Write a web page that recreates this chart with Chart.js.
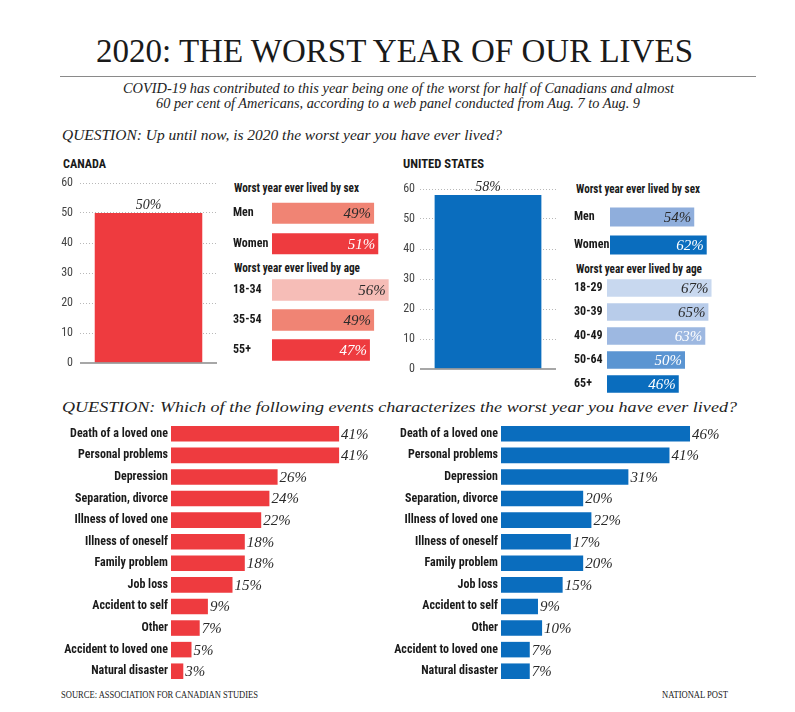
<!DOCTYPE html>
<html>
<head>
<meta charset="utf-8">
<script src="https://cdn.jsdelivr.net/npm/chart.js@4.4.1/dist/chart.umd.min.js"></script>
<style>
  body { margin: 0; background: #fff; }
  #page { position: relative; width: 795px; height: 712px; overflow: hidden; background: #fff; }
  canvas { position: absolute; }
  .t { position: absolute; white-space: nowrap; transform-origin: left top; color: #1a1a1a; }
  .serif { font-family: 'Liberation Serif', 'DejaVu Serif', serif; }
  .it { font-style: italic; }
  .sans { font-family: 'Liberation Sans Narrow', 'Roboto Condensed', Roboto, sans-serif; font-weight: bold; }
  #rule { position: absolute; left: 60px; top: 76px; width: 696px; height: 1px; background: #8a8a8a; }
</style>
</head>
<body>
<div id="page">
  <div class="t serif" data-w="597" style="left:96px;top:34px;font-size:34px;line-height:34px;">2020: THE WORST YEAR OF OUR LIVES</div>
  <div id="rule"></div>
  <div class="t serif it" data-w="551" style="left:123px;top:81px;font-size:15px;line-height:15px;color:#222;">COVID-19 has contributed to this year being one of the worst for half of Canadians and almost</div>
  <div class="t serif it" data-w="484" style="left:156px;top:96px;font-size:15px;line-height:15px;color:#222;">60 per cent of Americans, according to a web panel conducted from Aug. 7 to Aug. 9</div>
  <div class="t serif it" data-w="440" style="left:62px;top:128px;font-size:14.5px;line-height:14.5px;color:#222;">QUESTION: Up until now, is 2020 the worst year you have ever lived?</div>

  <div class="t sans" data-w="43" style="left:63px;top:157px;font-size:13px;line-height:13px;">CANADA</div>
  <div class="t sans" data-w="81" style="left:403px;top:157px;font-size:13px;line-height:13px;">UNITED STATES</div>

  <div class="t sans" data-w="125" style="left:234px;top:182px;font-size:12px;line-height:12px;">Worst year ever lived by sex</div>
  <div class="t sans" data-w="126" style="left:234px;top:262px;font-size:12px;line-height:12px;">Worst year ever lived by age</div>
  <div class="t sans" data-w="124" style="left:576px;top:183px;font-size:12px;line-height:12px;">Worst year ever lived by sex</div>
  <div class="t sans" data-w="126" style="left:576px;top:263px;font-size:12px;line-height:12px;">Worst year ever lived by age</div>

  <div class="t serif it" data-w="675" style="left:62px;top:400px;font-size:14.5px;line-height:14.5px;color:#222;">QUESTION: Which of the following events characterizes the worst year you have ever lived?</div>

  <div class="t serif" data-w="197" style="left:61px;top:690px;font-size:10px;line-height:10px;color:#222;">SOURCE: ASSOCIATION FOR CANADIAN STUDIES</div>
  <div class="t serif" data-w="66" style="left:662px;top:690px;font-size:10px;line-height:10px;color:#222;">NATIONAL POST</div>

  <canvas id="caCol" width="162" height="210" style="left:55px;top:168px;"></canvas>
  <canvas id="caSex" width="164" height="85" style="left:233px;top:186px;"></canvas>
  <canvas id="caAge" width="164" height="114" style="left:233px;top:263px;"></canvas>
  <canvas id="usCol" width="161" height="210" style="left:395px;top:174px;"></canvas>
  <canvas id="usSex" width="153" height="80" style="left:574px;top:191px;"></canvas>
  <canvas id="usAge" width="150" height="144" style="left:574px;top:264px;"></canvas>
  <canvas id="caEvents" width="361" height="283" style="left:15px;top:411px;"></canvas>
  <canvas id="usEvents" width="382" height="283" style="left:345px;top:411px;"></canvas>
</div>

<script>
// ---- data ----
const caTotal = [50];
const usTotal = [58];
const yTicks = [0, 10, 20, 30, 40, 50, 60];

const sexLabels = ['Men', 'Women'];
const caSexValues = [49, 51];
const usSexValues = [54, 62];

const caAgeLabels = ['18-34', '35-54', '55+'];
const caAgeValues = [56, 49, 47];
const usAgeLabels = ['18-29', '30-39', '40-49', '50-64', '65+'];
const usAgeValues = [67, 65, 63, 50, 46];

const events = ['Death of a loved one', 'Personal problems', 'Depression', 'Separation, divorce',
  'Illness of loved one', 'Illness of oneself', 'Family problem', 'Job loss',
  'Accident to self', 'Other', 'Accident to loved one', 'Natural disaster'];
const caEventValues = [41, 41, 26, 24, 22, 18, 18, 15, 9, 7, 5, 3];
const usEventValues = [46, 41, 31, 20, 22, 17, 20, 15, 9, 10, 7, 7];

// ---- colours ----
const RED = '#ee3b3f', SALMON = '#f08474', PINK = '#f6bdb7';
const BLUE = '#0a6dbe';
const DARK = '#2a2a2a', WHITE = '#ffffff';

// fit text blocks to the widths
document.querySelectorAll('.t').forEach(el => {
  const w = el.getBoundingClientRect().width;
  el.style.transform = 'scaleX(' + (parseFloat(el.dataset.w) / w) + ')';
});

Chart.defaults.font.family = "'Liberation Sans Narrow', 'Roboto Condensed', Roboto, sans-serif";
Chart.defaults.color = '#333';
Chart.defaults.animation = false;
Chart.defaults.plugins.legend.display = false;
Chart.defaults.plugins.tooltip.enabled = false;

const valueFont = "italic 15px 'Liberation Serif', 'DejaVu Serif', serif";

Chart.register({
  id: 'valueLabels',
  afterDatasetsDraw(chart, args, opts) {
    if (!opts.mode) return;
    const ctx = chart.ctx;
    const ds = chart.data.datasets[0];
    ctx.save();
    ctx.font = opts.font || valueFont;
    chart.getDatasetMeta(0).data.forEach((bar, i) => {
      const txt = ds.data[i] + '%';
      ctx.fillStyle = opts.colors ? opts.colors[i] : DARK;
      if (opts.mode === 'above') {
        ctx.textAlign = 'center'; ctx.textBaseline = 'bottom';
        ctx.fillText(txt, bar.x, bar.y - 1);
      } else if (opts.mode === 'inside') {
        ctx.textAlign = 'right'; ctx.textBaseline = 'middle';
        ctx.fillText(txt, bar.x - 3, bar.y + 1);
      } else {
        ctx.textAlign = 'left'; ctx.textBaseline = 'middle';
        ctx.fillText(txt, bar.x + 2, bar.y + 1);
      }
    });
    ctx.restore();
  }
});

Chart.register({
  id: 'baseline',
  afterDatasetsDraw(chart, args, opts) {
    if (!opts.on) return;
    const ctx = chart.ctx, a = chart.chartArea;
    const y = chart.scales.y.getPixelForValue(0);
    ctx.save();
    ctx.strokeStyle = '#8a8a8a';
    ctx.lineWidth = 1.5;
    ctx.beginPath();
    ctx.moveTo(a.left, y); ctx.lineTo(a.right, y);
    ctx.stroke();
    ctx.restore();
  }
});

// padding is set larger than half a tick label (+ tick padding) so the plot area is fixed
function columnChart(id, values, color, axisW, pad) {
  return new Chart(document.getElementById(id), {
    type: 'bar',
    data: { labels: ['total'], datasets: [{ data: values, backgroundColor: color, barPercentage: 0.785, categoryPercentage: 1 }] },
    options: {
      responsive: false,
      layout: { padding: { top: 15, bottom: 15, left: 0, right: 0 } },
      scales: {
        x: { display: false },
        y: {
          min: 0, max: 60,
          afterFit: s => { s.width = axisW; },
          afterBuildTicks: s => { s.ticks = yTicks.map(v => ({ value: v })); },
          ticks: { padding: pad, font: { size: 12 }, color: '#444' },
          grid: { color: c => c.tick && c.tick.value === 0 ? 'rgba(0,0,0,0)' : '#b8b8b8', drawTicks: false, tickLength: 0 },
          border: { display: false, dash: [1, 2] }
        }
      },
      plugins: {
        valueLabels: { mode: 'above', font: "italic 14px 'Liberation Serif', 'DejaVu Serif', serif" },
        baseline: { on: true }
      }
    }
  });
}

function hbarChart(id, labels, values, colors, textColors, axisW, xMax, barPct, mode, align, pad) {
  return new Chart(document.getElementById(id), {
    type: 'bar',
    data: { labels: labels, datasets: [{ data: values, backgroundColor: colors, barPercentage: barPct, categoryPercentage: 1 }] },
    options: {
      responsive: false,
      indexAxis: 'y',
      layout: { padding: { top: 12, bottom: 12, left: 0, right: 0 } },
      scales: {
        x: { display: false, min: 0, max: xMax },
        y: {
          afterFit: s => { s.width = axisW; },
          ticks: { crossAlign: align, padding: pad, font: { size: 12, weight: 'bold' }, color: '#1a1a1a' },
          grid: { display: false, drawTicks: false, tickLength: 0 },
          border: { display: false }
        }
      },
      plugins: {
        valueLabels: { mode: mode, colors: textColors }
      }
    }
  });
}

columnChart('caCol', caTotal, RED, 25, 7);
columnChart('usCol', usTotal, BLUE, 25, 5);

hbarChart('caSex', sexLabels, caSexValues, [SALMON, RED], [DARK, WHITE], 39, 60, 0.69, 'inside', 'far', 0);
hbarChart('caAge', caAgeLabels, caAgeValues, [PINK, SALMON, RED], [DARK, DARK, WHITE], 39, 60, 0.72, 'inside', 'far', 0);
hbarChart('usSex', sexLabels, usSexValues, ['#8faedc', BLUE], [DARK, WHITE], 36, 75, 0.68, 'inside', 'far', 0);
hbarChart('usAge', usAgeLabels, usAgeValues, ['#c8d8ef', '#b8ccea', '#9db8e1', '#5b95d2', BLUE],
  [DARK, DARK, WHITE, WHITE, WHITE], 33, 75, 0.725, 'inside', 'far', 0);

hbarChart('caEvents', events, caEventValues, RED, null, 156, 50, 0.72, 'outside', 'near', 3);
hbarChart('usEvents', events, usEventValues, BLUE, null, 156, 55, 0.72, 'outside', 'near', 3);
</script>
</body>
</html>
